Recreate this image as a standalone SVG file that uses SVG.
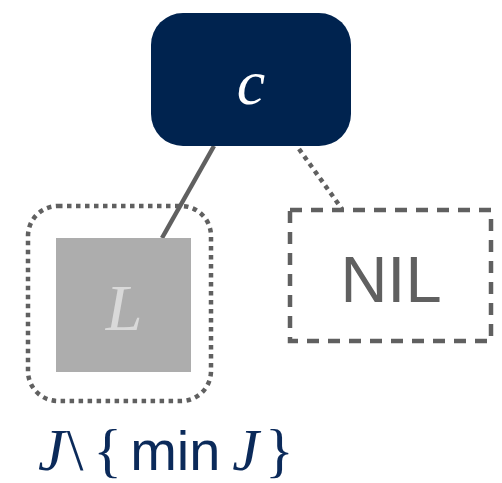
<svg xmlns="http://www.w3.org/2000/svg" width="502" height="483" viewBox="0 0 502 483">
<style>
.edge{stroke:#606060;stroke-width:4.5;fill:none}
.math{font-family:"Liberation Serif",serif;font-style:italic}
</style>
<rect width="502" height="483" fill="#fff"/>
<g id="connectors">
<line class="edge" x1="214" y1="146" x2="162" y2="238"/>
<line class="edge" x1="299" y1="149" x2="342" y2="209" stroke-dasharray="4.5 4.5"/>
</g>
<g id="node-c">
<rect x="151" y="13" width="200" height="133" rx="32" fill="#00234f"/>
<text x="251" y="104" text-anchor="middle" class="math" font-size="64" fill="#fff">c</text>
</g>
<g id="node-L">
<rect x="28" y="206" width="183" height="195" rx="30" fill="none" stroke="#606060" stroke-width="4.5" stroke-dasharray="4.5 4.5"/>
<rect x="56" y="238" width="135" height="134" fill="#adadad"/>
<text x="124" y="330" text-anchor="middle" class="math" font-size="66" fill="#d9d9d9">L</text>
</g>
<g id="node-nil">
<rect x="290" y="210" width="201" height="131" fill="none" stroke="#606060" stroke-width="4.5" stroke-dasharray="12 9"/>
<text x="391" y="302" text-anchor="middle" font-family="Liberation Sans,sans-serif" font-size="65" fill="#606060">NIL</text>
</g>
<g id="label">
<text x="38" y="470" font-size="60" fill="#0b2a5a" font-family="Liberation Serif,serif"><tspan font-style="italic">J</tspan><tspan dx="2">\</tspan><tspan dx="10">{</tspan><tspan font-family="Liberation Sans,sans-serif" dx="8" font-size="56">min</tspan><tspan font-style="italic" dx="12">J</tspan><tspan dx="6">}</tspan></text>
</g>
</svg>
